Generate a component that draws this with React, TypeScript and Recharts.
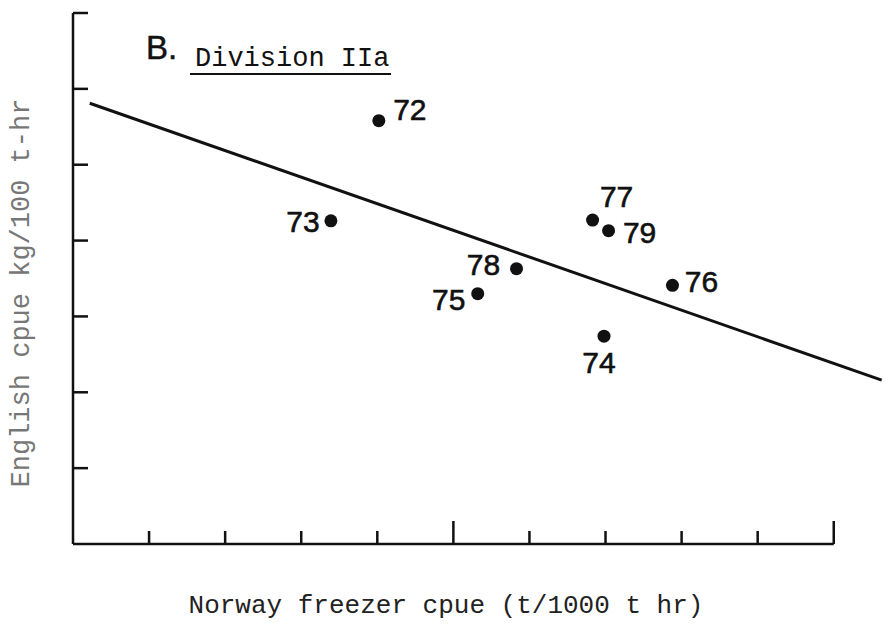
import React from 'react';
import { ScatterChart, Scatter, XAxis, YAxis, ReferenceLine } from 'recharts';

// Division IIa: English cpue against Norway freezer cpue, one point per year
const years = ['72', '73', '74', '75', '76', '77', '78', '79'];
const norwayCpue = [4.02, 3.39, 6.98, 5.32, 7.88, 6.83, 5.83, 7.04];
const englishCpue = [5.58, 4.26, 2.74, 3.3, 3.41, 4.27, 3.63, 4.13];

// ends of the fitted line
const fitX = [0.22, 10.63];
const fitY = [5.81, 2.16];

const xTicks = [1, 2, 3, 4, 5, 6, 7, 8, 9, 10];
const yTicks = [1, 2, 3, 4, 5, 6, 7];

const points = years.map((year, i) => ({ year, x: norwayCpue[i], y: englishCpue[i] }));

const INK = '#111';
const W = 890;
const H = 627;

// where each year label sits relative to its dot (px)
const labelOffset: Record<string, [number, number]> = {
    '72': [31, -11],
    '73': [-28, 1],
    '74': [-5, 26],
    '75': [-29, 6],
    '76': [29, -4],
    '77': [24, -24],
    '78': [-33, -4],
    '79': [31, 2],
};

const XTick = (props: any) => {
    const { x, y, payload } = props;
    const len = payload.value === 5 || payload.value === 10 ? 23 : 13;
    return <line x1={x} y1={y} x2={x} y2={y - len} stroke={INK} strokeWidth={2.5} />;
};

const YTick = (props: any) => {
    const { x, y } = props;
    return <line x1={x} y1={y} x2={x + 15} y2={y} stroke={INK} strokeWidth={2.5} />;
};

const Dot = (props: any) => {
    const { cx, cy, payload } = props;
    const [dx, dy] = labelOffset[payload.year] || [20, 0];
    return (
        <g>
            <circle cx={cx} cy={cy} r={6.5} fill={INK} />
            <text
                x={cx + dx}
                y={cy + dy}
                textAnchor="middle"
                dominantBaseline="central"
                fontFamily="'Liberation Sans', Arial, sans-serif"
                fontSize={30}
                stroke={INK}
                strokeWidth={0.6}
                fill={INK}
            >
                {payload.year}
            </text>
        </g>
    );
};

export default function App() {
    return (
        <div style={{ position: 'absolute', left: 0, top: 0, width: W, height: H, background: '#fff' }}>
            <ScatterChart width={W} height={H} margin={{ top: 13, right: 3, bottom: 83, left: 73 }}>
                <XAxis
                    type="number"
                    dataKey="x"
                    domain={[0, 10.7]}
                    ticks={xTicks}
                    interval={0}
                    mirror
                    axisLine={false}
                    tickLine={false}
                    tickSize={0}
                    tickMargin={0}
                    tick={<XTick />}
                />
                <YAxis
                    type="number"
                    dataKey="y"
                    domain={[0, 7]}
                    ticks={yTicks}
                    interval={0}
                    mirror
                    axisLine={{ stroke: INK, strokeWidth: 2.5 }}
                    tickLine={false}
                    tickSize={0}
                    tickMargin={0}
                    tick={<YTick />}
                />
                <ReferenceLine
                    segment={[{ x: 0, y: 0 }, { x: 10, y: 0 }]}
                    stroke={INK}
                    strokeWidth={2.5}
                />
                <ReferenceLine
                    segment={[{ x: fitX[0], y: fitY[0] }, { x: fitX[1], y: fitY[1] }]}
                    stroke={INK}
                    strokeWidth={3}
                />
                <Scatter data={points} shape={<Dot />} isAnimationActive={false} />
            </ScatterChart>
            <svg
                width={W}
                height={H}
                style={{ position: 'absolute', left: 0, top: 0, pointerEvents: 'none' }}
            >
                <text
                    x={146}
                    y={59}
                    fontFamily="'Liberation Sans', Arial, sans-serif"
                    fontSize={33}
                    stroke={INK}
                    strokeWidth={0.5}
                    fill={INK}
                >
                    B.
                </text>
                <text x={195} y={66} fontFamily="'Courier New', 'Liberation Mono', monospace" fontSize={27} fill={INK}>
                    Division IIa
                </text>
                <line x1={190} y1={74} x2={391} y2={74} stroke={INK} strokeWidth={2} />
                <text
                    x={446}
                    y={613}
                    textAnchor="middle"
                    fontFamily="'Courier New', 'Liberation Mono', monospace"
                    fontSize={26}
                    fill="#222"
                >
                    Norway freezer cpue (t/1000 t hr)
                </text>
                <text
                    x={22}
                    y={293}
                    transform="rotate(-90 22 293)"
                    textAnchor="middle"
                    dominantBaseline="central"
                    fontFamily="'Courier New', 'Liberation Mono', monospace"
                    fontSize={27}
                    fill="#777"
                >
                    English cpue kg/100 t-hr
                </text>
            </svg>
        </div>
    );
}
